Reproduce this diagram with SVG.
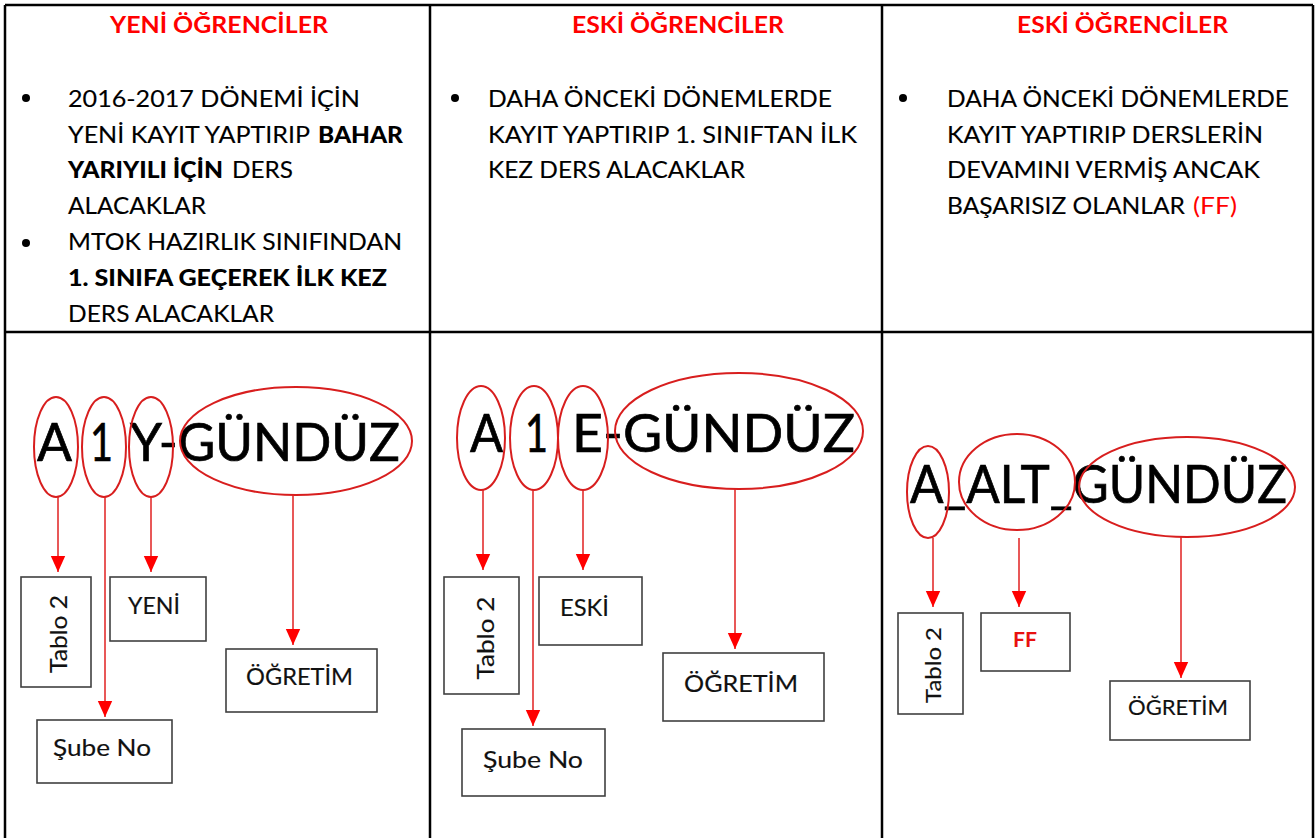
<svg xmlns="http://www.w3.org/2000/svg" width="1315" height="838" viewBox="0 0 1315 838">
<defs>
<marker id="ah" viewBox="0 0 10 10" refX="10" refY="5" markerWidth="16" markerHeight="16" markerUnits="userSpaceOnUse" orient="auto">
<path d="M0,0.5 L10,5 L0,9.5 z" fill="#ff0000"/>
</marker>
<style>
.hd{font-family:Lato,"Liberation Sans",sans-serif;font-weight:bold;font-size:23px;fill:#ff0000}
.t{font-family:Lato,"Liberation Sans",sans-serif;font-size:23px;fill:#000;stroke:#000;stroke-width:0.12}
.b{font-family:Lato,"Liberation Sans",sans-serif;font-size:23px;font-weight:900;fill:#000}
.big{font-family:Lato,"Liberation Sans",sans-serif;font-size:53px;fill:#000;stroke:#000;stroke-width:0.7}
.bx{font-family:Lato,"Liberation Sans",sans-serif;font-size:23px;fill:#111;stroke:#111;stroke-width:0.15}
.box{fill:#fff;stroke:#404040;stroke-width:1.6}
.el{fill:none;stroke:#d81e1e;stroke-width:2}
.ar{fill:none;stroke:#e02020;stroke-width:1.5;marker-end:url(#ah)}
.grid{stroke:#000;stroke-width:2.5;fill:none}
</style>
</defs>
<rect width="1315" height="838" fill="#fff"/>
<g id="table">
<line class="grid" x1="5" y1="5" x2="1313" y2="5"/>
<line class="grid" x1="5" y1="5" x2="5" y2="840"/>
<line class="grid" x1="1313" y1="5" x2="1313" y2="840"/>
<line class="grid" x1="430" y1="5" x2="430" y2="840"/>
<line class="grid" x1="882" y1="5" x2="882" y2="840"/>
<line class="grid" x1="5" y1="332" x2="1313" y2="332"/>
</g>
<g id="col1-header">
<text class="hd" x="110" y="33" textLength="218" lengthAdjust="spacingAndGlyphs">YENİ ÖĞRENCİLER</text>
<circle cx="26" cy="98" r="4" fill="#000"/>
<circle cx="26" cy="243" r="4" fill="#000"/>
<text class="t" x="68" y="107" textLength="292" lengthAdjust="spacingAndGlyphs">2016-2017 DÖNEMİ İÇİN</text>
<text class="t" x="68" y="143" textLength="242" lengthAdjust="spacingAndGlyphs">YENİ KAYIT YAPTIRIP</text>
<text class="b" x="318" y="143" textLength="85" lengthAdjust="spacingAndGlyphs">BAHAR</text>
<text class="b" x="68" y="178" textLength="155" lengthAdjust="spacingAndGlyphs">YARIYILI İÇİN</text>
<text class="t" x="232" y="178" textLength="61" lengthAdjust="spacingAndGlyphs">DERS</text>
<text class="t" x="68" y="214" textLength="138" lengthAdjust="spacingAndGlyphs">ALACAKLAR</text>
<text class="t" x="68" y="250" textLength="334" lengthAdjust="spacingAndGlyphs">MTOK HAZIRLIK SINIFINDAN</text>
<text class="b" x="68" y="286" textLength="319" lengthAdjust="spacingAndGlyphs">1. SINIFA GEÇEREK İLK KEZ</text>
<text class="t" x="68" y="322" textLength="206" lengthAdjust="spacingAndGlyphs">DERS ALACAKLAR</text>
</g>
<g id="col2-header">
<text class="hd" x="572" y="33" textLength="212" lengthAdjust="spacingAndGlyphs">ESKİ ÖĞRENCİLER</text>
<circle cx="455" cy="98" r="4" fill="#000"/>
<text class="t" x="488" y="107" textLength="344" lengthAdjust="spacingAndGlyphs">DAHA ÖNCEKİ DÖNEMLERDE</text>
<text class="t" x="488" y="143" textLength="369" lengthAdjust="spacingAndGlyphs">KAYIT YAPTIRIP 1. SINIFTAN İLK</text>
<text class="t" x="488" y="178" textLength="257" lengthAdjust="spacingAndGlyphs">KEZ DERS ALACAKLAR</text>
</g>
<g id="col3-header">
<text class="hd" x="1017" y="33" textLength="211" lengthAdjust="spacingAndGlyphs">ESKİ ÖĞRENCİLER</text>
<circle cx="903" cy="98" r="4" fill="#000"/>
<text class="t" x="947" y="107" textLength="342" lengthAdjust="spacingAndGlyphs">DAHA ÖNCEKİ DÖNEMLERDE</text>
<text class="t" x="947" y="143" textLength="316" lengthAdjust="spacingAndGlyphs">KAYIT YAPTIRIP DERSLERİN</text>
<text class="t" x="947" y="178" textLength="313" lengthAdjust="spacingAndGlyphs">DEVAMINI VERMİŞ ANCAK</text>
<text class="t" x="947" y="214" textLength="238" lengthAdjust="spacingAndGlyphs">BAŞARISIZ OLANLAR</text>
<text x="1193" y="214" textLength="44" lengthAdjust="spacingAndGlyphs" style="font-family:Lato,'Liberation Sans',sans-serif;font-size:23px;fill:#ff0000">(FF)</text>
</g>
<g id="code1">
<text class="big" x="37" y="461" textLength="35" lengthAdjust="spacingAndGlyphs">A</text>
<text class="big" x="90" y="461" textLength="23" lengthAdjust="spacingAndGlyphs">1</text>
<text class="big" x="130" y="461" textLength="270" lengthAdjust="spacingAndGlyphs">Y-GÜNDÜZ</text>
<ellipse class="el" cx="56" cy="447" rx="22" ry="50"/>
<ellipse class="el" cx="104" cy="447" rx="22" ry="50"/>
<ellipse class="el" cx="151" cy="447" rx="22" ry="50"/>
<ellipse class="el" cx="296" cy="441" rx="116" ry="54"/>
</g>
<g id="code2">
<text class="big" x="470" y="452" textLength="33" lengthAdjust="spacingAndGlyphs">A</text>
<text class="big" x="525" y="452" textLength="23" lengthAdjust="spacingAndGlyphs">1</text>
<text class="big" x="572" y="452" textLength="283" lengthAdjust="spacingAndGlyphs">E-GÜNDÜZ</text>
<ellipse class="el" cx="481" cy="438" rx="24" ry="52"/>
<ellipse class="el" cx="534" cy="438" rx="24" ry="52"/>
<ellipse class="el" cx="583" cy="438" rx="25" ry="52"/>
<ellipse class="el" cx="739" cy="431" rx="124" ry="58"/>
</g>
<g id="code3">
<text class="big" x="910" y="503" textLength="377" lengthAdjust="spacingAndGlyphs">A_ALT_GÜNDÜZ</text>
<ellipse class="el" cx="928" cy="492" rx="21" ry="46"/>
<ellipse class="el" cx="1017" cy="482" rx="58" ry="48"/>
<ellipse class="el" cx="1187" cy="487" rx="108" ry="50"/>
</g>
<g id="connectors">
<line class="ar" x1="58" y1="497" x2="58" y2="572"/>
<line class="ar" x1="105" y1="497" x2="105" y2="717"/>
<line class="ar" x1="151" y1="497" x2="151" y2="572"/>
<line class="ar" x1="293" y1="495" x2="293" y2="645"/>
<line class="ar" x1="483" y1="490" x2="483" y2="570"/>
<line class="ar" x1="533" y1="490" x2="533" y2="726"/>
<line class="ar" x1="583" y1="490" x2="583" y2="570"/>
<line class="ar" x1="735" y1="489" x2="735" y2="649"/>
<line class="ar" x1="933" y1="538" x2="933" y2="607"/>
<line class="ar" x1="1019" y1="538" x2="1019" y2="607"/>
<line class="ar" x1="1181" y1="537" x2="1181" y2="678"/>
</g>
<g id="n1-tablo">
<rect class="box" x="21" y="577" width="70" height="110"/>
<text class="bx" transform="translate(67,634) rotate(-90)" text-anchor="middle" textLength="78" lengthAdjust="spacingAndGlyphs">Tablo 2</text>
</g>
<g id="n1-yeni">
<rect class="box" x="110" y="577" width="96" height="64"/>
<text class="bx" x="128" y="614" textLength="52" lengthAdjust="spacingAndGlyphs">YENİ</text>
</g>
<g id="n1-ogretim">
<rect class="box" x="226" y="649" width="151" height="63"/>
<text class="bx" x="246" y="685" textLength="107" lengthAdjust="spacingAndGlyphs">ÖĞRETİM</text>
</g>
<g id="n1-sube">
<rect class="box" x="37" y="720" width="135" height="63"/>
<text class="bx" x="53" y="756" textLength="98" lengthAdjust="spacingAndGlyphs">Şube No</text>
</g>
<g id="n2-tablo">
<rect class="box" x="444" y="577" width="75" height="117"/>
<text class="bx" transform="translate(494,638) rotate(-90)" text-anchor="middle" textLength="83" lengthAdjust="spacingAndGlyphs">Tablo 2</text>
</g>
<g id="n2-eski">
<rect class="box" x="539" y="577" width="103" height="68"/>
<text class="bx" x="560" y="616" textLength="49" lengthAdjust="spacingAndGlyphs">ESKİ</text>
</g>
<g id="n2-ogretim">
<rect class="box" x="663" y="653" width="161" height="68"/>
<text class="bx" x="684" y="692" textLength="114" lengthAdjust="spacingAndGlyphs">ÖĞRETİM</text>
</g>
<g id="n2-sube">
<rect class="box" x="462" y="729" width="143" height="67"/>
<text class="bx" x="483" y="768" textLength="100" lengthAdjust="spacingAndGlyphs">Şube No</text>
</g>
<g id="n3-tablo">
<rect class="box" x="898" y="613" width="65" height="101"/>
<text class="bx" transform="translate(941,665) rotate(-90)" text-anchor="middle" textLength="76" lengthAdjust="spacingAndGlyphs" style="font-size:21px">Tablo 2</text>
</g>
<g id="n3-ff">
<rect class="box" x="981" y="613" width="89" height="58"/>
<text x="1013" y="647" textLength="24" lengthAdjust="spacingAndGlyphs" style="font-family:Lato,'Liberation Sans',sans-serif;font-size:21px;font-weight:bold;fill:#e81010">FF</text>
</g>
<g id="n3-ogretim">
<rect class="box" x="1110" y="681" width="140" height="59"/>
<text class="bx" x="1128" y="715" textLength="100" lengthAdjust="spacingAndGlyphs" style="font-size:21px">ÖĞRETİM</text>
</g>
</svg>
